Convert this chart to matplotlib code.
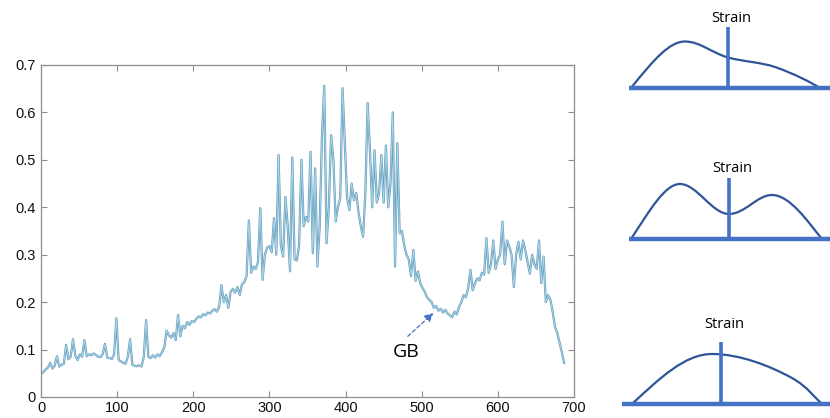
import matplotlib
matplotlib.use('Agg')
import matplotlib.pyplot as plt
import numpy as np
from matplotlib.path import Path
from matplotlib.patches import PathPatch, FancyArrowPatch

# Profile sampled every 3 units along the line scan
step = 3
profile = [
    0.050, 0.052, 0.058, 0.062, 0.072, 0.060, 0.066, 0.086, 0.064, 0.068,
    0.070, 0.110, 0.080, 0.085, 0.122, 0.088, 0.078, 0.090, 0.085, 0.120,
    0.086, 0.090, 0.088, 0.092, 0.089, 0.085, 0.084, 0.090, 0.112, 0.083,
    0.082, 0.080, 0.090, 0.166, 0.078, 0.075, 0.072, 0.070, 0.085, 0.122,
    0.068, 0.066, 0.065, 0.067, 0.064, 0.085, 0.162, 0.085, 0.082, 0.088,
    0.083, 0.090, 0.086, 0.095, 0.105, 0.140, 0.130, 0.125, 0.135, 0.120,
    0.173, 0.128, 0.150, 0.145, 0.158, 0.152, 0.160, 0.158, 0.165, 0.170,
    0.168, 0.175, 0.172, 0.178, 0.176, 0.182, 0.185, 0.180, 0.190, 0.236,
    0.200, 0.215, 0.188, 0.222, 0.228, 0.220, 0.232, 0.215, 0.238, 0.242,
    0.255, 0.372, 0.262, 0.275, 0.270, 0.285, 0.398, 0.247, 0.300, 0.315,
    0.318, 0.305, 0.377, 0.300, 0.510, 0.320, 0.296, 0.422, 0.360, 0.265,
    0.505, 0.290, 0.288, 0.320, 0.500, 0.360, 0.380, 0.370, 0.517, 0.303,
    0.482, 0.275, 0.360, 0.549, 0.656, 0.324, 0.400, 0.552, 0.500, 0.370,
    0.400, 0.420, 0.651, 0.535, 0.420, 0.394, 0.450, 0.415, 0.430, 0.390,
    0.360, 0.338, 0.430, 0.620, 0.520, 0.400, 0.520, 0.410, 0.430, 0.510,
    0.410, 0.530, 0.400, 0.450, 0.600, 0.275, 0.535, 0.345, 0.350, 0.320,
    0.300, 0.290, 0.255, 0.310, 0.245, 0.265, 0.240, 0.230, 0.222, 0.210,
    0.205, 0.200, 0.188, 0.192, 0.182, 0.186, 0.178, 0.184, 0.176, 0.172,
    0.168, 0.180, 0.174, 0.190, 0.200, 0.215, 0.210, 0.230, 0.268, 0.225,
    0.240, 0.250, 0.246, 0.262, 0.258, 0.335, 0.262, 0.280, 0.330, 0.270,
    0.290, 0.300, 0.370, 0.280, 0.330, 0.317, 0.300, 0.232, 0.300, 0.327,
    0.290, 0.330, 0.310, 0.285, 0.260, 0.300, 0.280, 0.270, 0.330, 0.240,
    0.296, 0.200, 0.215, 0.205, 0.180, 0.148, 0.135, 0.115, 0.095, 0.072,
]
position = np.arange(len(profile)) * step

x_ticks = [0, 100, 200, 300, 400, 500, 600, 700]
y_ticks = [0, 0.1, 0.2, 0.3, 0.4, 0.5, 0.6, 0.7]
y_ticklabels = ['0', '0.1', '0.2', '0.3', '0.4', '0.5', '0.6', '0.7']

W, H = 830, 418
fig = plt.figure(figsize=(W / 100, H / 100), dpi=100)
fig.patch.set_facecolor('white')

# main line-scan plot
ax = fig.add_axes([41 / W, 1 - 397 / H, 533 / W, 332 / H])
ax.plot(position, profile, color='#6a9cb8', lw=1.6, solid_joinstyle='round')
ax.plot(position, profile, color='#a9dcf0', lw=0.6, solid_joinstyle='round')
ax.set_xlim(0, 700)
ax.set_ylim(0, 0.7)
ax.set_xticks(x_ticks)
ax.set_yticks(y_ticks)
ax.set_yticklabels(y_ticklabels)
for s in ax.spines.values():
    s.set_color('#8f8f8f')
    s.set_linewidth(0.9)
ax.tick_params(direction='in', length=4, width=0.8, color='#8f8f8f',
               top=True, right=True, labelsize=10.5, pad=4)
ax.tick_params(axis='x', pad=3)
for lab in ax.get_xticklabels() + ax.get_yticklabels():
    lab.set_family('Liberation Sans')
    lab.set_color('#111111')

# grain boundary marker
ax.text(479, 0.095, 'GB', fontsize=14, family='Open Sans', ha='center', va='center')
arr = FancyArrowPatch((479, 0.124), (518, 0.181), arrowstyle='-|>', mutation_scale=13,
                      color='#4472c4', lw=0.9, linestyle=(0, (3, 2)))
ax.add_patch(arr)

# overlay in pixel coordinates for the strain sketches
ov = fig.add_axes([0, 0, 1, 1])
ov.set_xlim(0, W)
ov.set_ylim(H, 0)
ov.axis('off')

base_c = '#4472c4'
curve_c = '#2f5597'

sketches = [
    # baseline y, baseline x0, strain x, strain top, label y, bezier points
    (88, 629, 728, 27, 18, [(631, 88), (655, 58), (670, 41.5), (685, 41.5),
                            (700, 41.5), (712, 53), (728, 57.5),
                            (745, 62), (760, 62), (775, 67),
                            (795, 74), (810, 82), (820, 88)]),
    (239, 629, 729, 178, 169, [(631, 239), (650, 210), (665, 184), (680, 184),
                               (697, 184), (712, 214), (729, 214),
                               (745, 214), (757, 195), (772, 195),
                               (790, 195), (808, 222), (822, 239)]),
    (404, 622, 721, 342, 324, [(632, 404), (660, 378), (685, 354), (712, 354),
                               (740, 354), (770, 366), (792, 378),
                               (808, 387), (815, 398), (822, 404)]),
]

for base_y, x0, sx, stop, ly, pts in sketches:
    codes = [Path.MOVETO] + [Path.CURVE4] * (len(pts) - 1)
    ov.add_patch(PathPatch(Path(pts, codes), facecolor='none', edgecolor=curve_c, lw=1.6))
    ov.plot([sx, sx], [stop, base_y], color=base_c, lw=2.6, solid_capstyle='butt')
    ov.plot([x0, W], [base_y, base_y], color=base_c, lw=3.2, solid_capstyle='butt')
    ov.text(sx + 3, ly, 'Strain', fontsize=10.5, family='Open Sans', ha='center', va='center')

fig.savefig('out.png', dpi=100, facecolor='white')
